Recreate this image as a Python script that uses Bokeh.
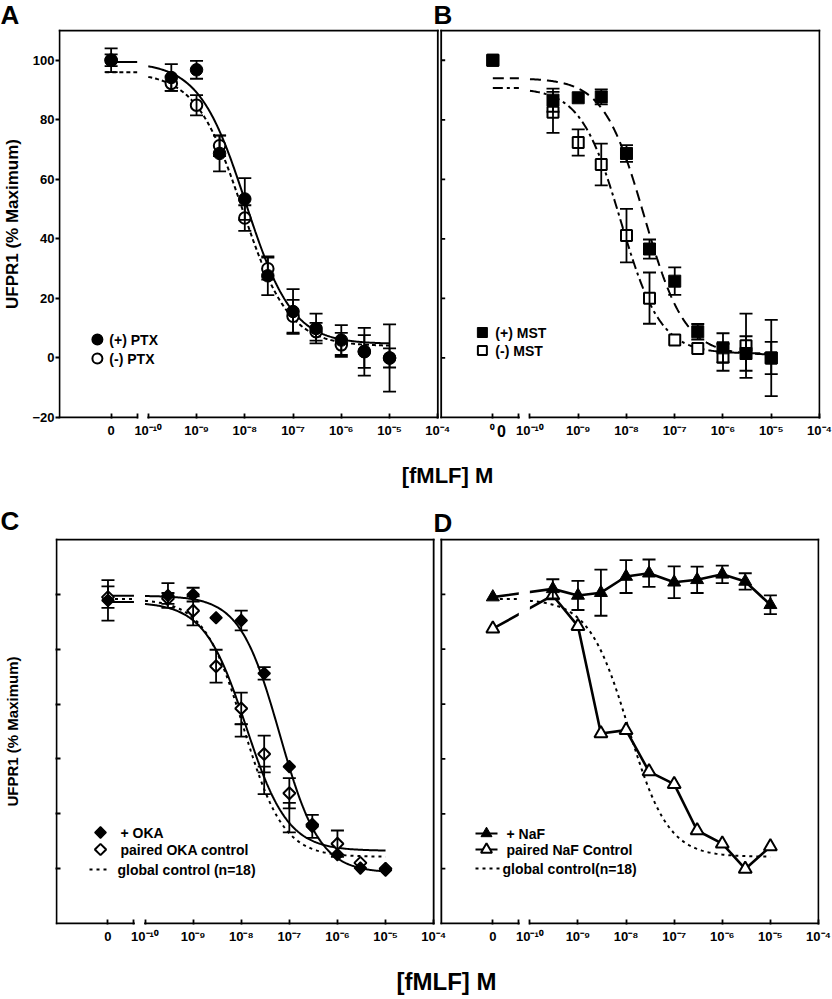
import math
import numpy as np
from bokeh.plotting import figure
from bokeh.layouts import column
from bokeh.models import Range1d, FixedTicker, CustomJSTickFormatter, Label
from bokeh.embed import file_html
from bokeh.resources import INLINE
from bokeh.core.properties import value

FONT = "Liberation Sans"
INK = "black"
W = 832
LEG = 14  # legend text size (px)

# ---------------------------------------------------------------- data
# fMLF concentration (M); 0 = no fMLF
conc_M = [0, 3e-10, 1e-9, 3e-9, 1e-8, 3e-8, 1e-7, 3e-7, 1e-6, 3e-6, 1e-5]
tick_conc = [0, 1e-10, 1e-9, 1e-8, 1e-7, 1e-6, 1e-5, 1e-4]
tick_labels = ["0", "10⁻¹⁰", "10⁻⁹", "10⁻⁸", "10⁻⁷", "10⁻⁶", "10⁻⁵", "10⁻⁴"]
y_ticks_top = [-20, 0, 20, 40, 60, 80, 100]
y_ticks_bottom = [0, 20, 40, 60, 80, 100]

# Panel A  (PTX)
ptx_plus = [100, 94.2, 96.8, 68.7, 53.4, 27.6, 15.6, 9.9, 6.0, 2.1, 0.0]
ptx_plus_sem = [4.0, 4.5, 3.0, 6.0, 7.0, 6.5, 7.5, 5.0, 5.0, 8.0, 11.3]
ptx_minus = [100, 92.2, 84.9, 71.3, 47.0, 30.0, 14.0, 8.8, 4.4, 2.2, 0.0]
ptx_minus_sem = [2.0, 2.5, 3.4, 3.5, 4.3, 3.7, 5.5, 3.0, 4.0, 5.5, 3.2]
fit_ptx_plus = (99.4, 4.7, -7.98, 0.9)      # top, bottom, logEC50, Hill
fit_ptx_minus = (96.0, 4.0, -8.05, 0.9)

# Panel B  (MST)
mst_plus = [100, 86.6, 87.4, 87.7, 68.7, 36.6, 25.8, 8.8, 3.4, 1.5, 0.0]
mst_plus_sem = [0, 3.9, 0, 2.5, 2.8, 3.2, 4.6, 2.6, 4.9, 5.8, 12.8]
mst_minus = [100, 82.5, 72.4, 65.0, 41.1, 20.1, 6.0, 3.2, 0.2, 4.1, 0.0]
mst_minus_sem = [0, 6.9, 4.4, 7.0, 9.0, 8.6, 0, 0, 4.5, 10.8, 5.4]
fit_mst_plus = (94.0, 1.0, -7.63, 1.03)
fit_mst_minus = (90.7, 1.5, -8.12, 1.05)

# Panel C  (OKA)
oka = [97.8, 99.6, 99.9, 91.5, 90.5, 71.2, 37.2, 15.4, 5.1, 0.2, -0.6]
oka_sem = [7.4, 4.5, 2.5, 0, 3.6, 2.3, 0, 4.2, 0, 0, 0]
oka_ctrl = [99.0, 98.5, 94.0, 73.8, 58.4, 41.8, 27.5, 16.0, 9.1, 2.1, 0.0]
oka_ctrl_sem = [3.9, 2.0, 5.3, 6.0, 5.8, 6.7, 5.5, 0, 4.8, 0, 0]
global_ctrl = [np.nan, np.nan, np.nan, np.nan, 50.4, 32.2, 18.6, np.nan, np.nan, np.nan, np.nan]
global_ctrl_sem = [0, 0, 0, 0, 2.3, 5.0, 5.4, 0, 0, 0, 0]
fit_oka = (99.5, -1.5, -7.2, 1.05)
fit_oka_ctrl = (97.2, 6.5, -7.9, 1.0)
fit_global = (98.3, 4.3, -7.95, 1.05)

# Panel D  (NaF)
naf = [99.0, 102.0, 99.6, 100.6, 106.5, 107.7, 104.4, 105.3, 107.3, 104.7, 96.2]
naf_sem = [0, 3.5, 5.3, 8.4, 6.0, 5.0, 5.8, 4.8, 3.2, 3.0, 3.4]
naf_ctrl = [87.5, 99.6, 88.4, 49.3, 50.5, 35.4, 30.8, 13.9, 9.1, -0.1, 8.1]

# ---------------------------------------------------------------- axis geometry (log10 units)
ZERO_POS = -10.77     # where "0" concentration sits on the broken axis
BREAK_LO = -10.23
BREAK_HI = -10.0
LEFT = -11.84
RIGHT = -4.0
OFF_TOP = 7.91        # shift of panel B relative to A
OFF_BOT = 8.0         # shift of panel D relative to C


def xpos(c):
    return ZERO_POS if c == 0 else math.log10(c)


X = np.array([xpos(c) for c in conc_M])


def logistic(params, x):
    top, bottom, logec50, hill = params
    return bottom + (top - bottom) / (1.0 + 10.0 ** ((x - logec50) * hill))


def no_align(p):
    try:
        p.frame_align = False
    except Exception:
        pass


def make_header(page_y0, height, letters, xs, centers, size):
    h = figure(width=W, height=height, x_range=Range1d(0, W),
               y_range=Range1d(page_y0 + height, page_y0),
               x_axis_type=None, y_axis_type=None, output_backend="svg",
               toolbar_location=None, min_border=0, outline_line_color=None,
               background_fill_color="white", border_fill_color="white")
    no_align(h)
    h.text(x=xs, y=centers, text=letters, text_font=value(FONT), text_font_style="bold",
           text_font_size=f"{size}px", text_baseline="middle", text_align="left",
           text_color=INK)
    return h


def make_row(page_y0, height, mb, off, ylo, yhi):
    mb_l, mb_r, mb_t, mb_b = mb
    fw = W - mb_l - mb_r
    fh = height - mb_t - mb_b
    xhi = RIGHT + off
    sx = (fw - 2.0) / (xhi - LEFT)
    sy = (fh - 2.0) / (yhi - ylo)
    x0 = LEFT - 1.0 / sx
    y1 = yhi + 1.0 / sy
    p = figure(width=W, height=height,
               x_range=Range1d(x0, xhi + 1.0 / sx),
               y_range=Range1d(ylo - 1.0 / sy, y1),
               output_backend="svg", toolbar_location=None,
               min_border_left=mb_l, min_border_right=mb_r,
               min_border_top=mb_t, min_border_bottom=mb_b,
               outline_line_color=None, background_fill_color="white",
               border_fill_color="white")
    no_align(p)
    p.grid.visible = False
    fl = mb_l
    ft = page_y0 + mb_t

    def to_data(px, py):
        return x0 + (px - fl) / sx, y1 - (py - ft) / sy
    return p, sx, sy, to_data


def add_label(p, to_data, px, py, text, size, align="left", side=None):
    """Text whose vertical centre sits at page row py."""
    x, y = to_data(px, py)
    lab = Label(x=x, y=y, text=text, text_font=FONT, text_font_style="bold",
                text_font_size=f"{size}px", text_align=align,
                text_baseline="middle", text_color=INK)
    if side is None:
        p.add_layout(lab)
    else:
        p.add_layout(lab, side)


def draw_fit(p, params, off, dash, zero_start, lw=2.0):
    xs = np.linspace(-10.0, -5.0, 240)
    p.line(xs + off, logistic(params, xs), line_color=INK, line_width=lw, line_dash=dash)
    top = params[0]
    p.line([zero_start + off, BREAK_LO + off], [top, top], line_color=INK,
           line_width=lw, line_dash=dash)


def error_bars(p, xs, ys, errs, cap=13, lw=1.8):
    sel = [(x, y, e) for x, y, e in zip(xs, ys, errs) if e > 0 and np.isfinite(y)]
    if not sel:
        return
    x = [s[0] for s in sel]
    lo = [s[1] - s[2] for s in sel]
    hi = [s[1] + s[2] for s in sel]
    p.segment(x0=x, y0=lo, x1=x, y1=hi, line_color=INK, line_width=lw)
    p.scatter(x=x + x, y=hi + lo, marker="dash", size=cap, line_color=INK, line_width=lw)


def draw_frame(p, off, ylo, yhi, sx, inner_ticks=None):
    l, r = LEFT + off, RIGHT + off
    xs = [[l, l], [l, r], [r, r], [l, BREAK_LO + off], [BREAK_HI + off, r]]
    ys = [[ylo, yhi], [yhi, yhi], [ylo, yhi], [ylo, ylo], [ylo, ylo]]
    p.multi_line(xs, ys, line_color=INK, line_width=1.8, line_cap="square")
    if inner_ticks:
        n = len(inner_ticks)
        p.segment(x0=[l] * n, y0=inner_ticks, x1=[l + 4.0 / sx] * n, y1=inner_ticks,
                  line_color=INK, line_width=1.8)


def setup_xaxis(p, offs, zero_labels):
    vals, labs = [], []
    for off, zl in zip(offs, zero_labels):
        for c, lab in zip(tick_conc, tick_labels):
            vals.append(xpos(c) + off)
            labs.append(zl if c == 0 else lab)
        vals.append(BREAK_LO + off)
        labs.append("")
    ax = p.xaxis[0]
    ax.ticker = FixedTicker(ticks=vals)
    ax.formatter = CustomJSTickFormatter(
        args=dict(vals=vals, labs=labs),
        code="for (let i = 0; i < vals.length; i++) { if (Math.abs(vals[i] - tick) < 1e-6) { return labs[i]; } } return '';")
    ax.axis_line_color = None
    ax.major_tick_in = 5
    ax.major_tick_out = 0
    ax.major_tick_line_width = 1.8
    ax.minor_tick_line_color = None
    ax.major_label_standoff = 4
    ax.major_label_text_font = FONT
    ax.major_label_text_font_style = "bold"
    ax.major_label_text_font_size = "13px"
    ax.major_label_text_color = INK


def legend_marker(p, to_data, px, py, marker, size, fill, lw, angle=0.0):
    x, y = to_data(px, py)
    p.scatter([x], [y], marker=marker, size=size, fill_color=fill, line_color=INK,
              line_width=lw, angle=angle)


def legend_line(p, to_data, px0, px1, py, dash, lw=2.2):
    x0, y = to_data(px0, py)
    x1, _ = to_data(px1, py)
    p.line([x0, x1], [y, y], line_color=INK, line_width=lw, line_dash=dash)


# ================================================================ header A / B
hdr_top = make_header(0, 29, ["A", "B"], [0, 433], [14.5, 14.5], 26)

# ================================================================ top row (A, B)
pt, sxt, syt, dt = make_row(29, 471, (56, 12, 0, 82), OFF_TOP, -20, 110)

# A
draw_fit(pt, fit_ptx_plus, 0, "solid", ZERO_POS - 0.12)
draw_fit(pt, fit_ptx_minus, 0, "4 3", ZERO_POS - 0.12)
pt.scatter(X, ptx_minus, marker="circle", size=11.5, fill_color="white", line_color=INK, line_width=2)
pt.scatter(X, ptx_plus, marker="circle", size=12.5, fill_color=INK, line_color=INK, line_width=1)
error_bars(pt, X, ptx_minus, ptx_minus_sem)
error_bars(pt, X, ptx_plus, ptx_plus_sem)

# B
XB = X + OFF_TOP
draw_fit(pt, fit_mst_plus, OFF_TOP, "11 6", ZERO_POS)
draw_fit(pt, fit_mst_minus, OFF_TOP, "10 4 3 4", ZERO_POS)
pt.scatter(XB, mst_minus, marker="square", size=11, fill_color="white", line_color=INK, line_width=2)
pt.scatter(XB, mst_plus, marker="square", size=12, fill_color=INK, line_color=INK, line_width=1)
error_bars(pt, XB, mst_minus, mst_minus_sem)
error_bars(pt, XB, mst_plus, mst_plus_sem)

draw_frame(pt, 0, -20, 110, sxt)
draw_frame(pt, OFF_TOP, -20, 110, sxt, inner_ticks=y_ticks_bottom)

setup_xaxis(pt, [0, OFF_TOP], ["0", "⁰"])
ay = pt.yaxis[0]
ay.ticker = FixedTicker(ticks=y_ticks_top)
ay.axis_line_color = None
ay.major_tick_in = 1
ay.major_tick_out = 3
ay.major_tick_line_width = 1.8
ay.minor_tick_line_color = None
ay.major_label_standoff = 1
ay.major_label_text_font = FONT
ay.major_label_text_font_style = "bold"
ay.major_label_text_font_size = "13px"
ay.major_label_text_color = INK
ay.axis_label = "UFPR1 (% Maximum)"
ay.axis_label_standoff = 7
ay.axis_label_text_font = FONT
ay.axis_label_text_font_style = "bold"
ay.axis_label_text_font_size = "17px"
ay.axis_label_text_color = INK

# legends
legend_marker(pt, dt, 95, 339, "circle", 10.5, INK, 1.5)
legend_marker(pt, dt, 95, 358, "circle", 10, "white", 2)
add_label(pt, dt, 107, 339, "(+) PTX", LEG)
add_label(pt, dt, 107, 358, "(-) PTX", LEG)
legend_marker(pt, dt, 481, 332, "square", 10, INK, 1)
legend_marker(pt, dt, 481, 350, "square", 9, "white", 2)
add_label(pt, dt, 494, 332, "(+) MST", LEG)
add_label(pt, dt, 494, 350, "(-) MST", LEG)

# texts below the axis
add_label(pt, dt, 500, 430, "0", 16, align="center", side="below")
add_label(pt, dt, 446, 475, "[fMLF] M", 22, align="center", side="below")

# ================================================================ header C / D
hdr_bot = make_header(500, 38, ["C", "D"], [0, 433], [520, 522.5], 26)

# ================================================================ bottom row (C, D)
pb, sxb, syb, db = make_row(538, 461, (55, 13, 0, 75), OFF_BOT, -20, 120)

# C
draw_fit(pb, fit_global, 0, "3 4", ZERO_POS)
draw_fit(pb, fit_oka_ctrl, 0, "solid", ZERO_POS)
draw_fit(pb, fit_oka, 0, "solid", ZERO_POS)
pb.scatter(X, oka_ctrl, marker="square", size=8.5, angle=math.pi / 4, fill_color="white", line_color=INK, line_width=2)
pb.scatter(X, oka, marker="square", size=8.5, angle=math.pi / 4, fill_color=INK, line_color=INK, line_width=1.5)
error_bars(pb, X, global_ctrl, global_ctrl_sem)
error_bars(pb, X, oka_ctrl, oka_ctrl_sem)
error_bars(pb, X, oka, oka_sem)

# D
XD = X + OFF_BOT
draw_fit(pb, fit_global, OFF_BOT, "3 4", ZERO_POS)
pb.line(XD, naf_ctrl, line_color=INK, line_width=2.6)
pb.line(XD, naf, line_color=INK, line_width=2.6)
pb.quad(left=BREAK_LO + OFF_BOT, right=BREAK_HI + OFF_BOT, bottom=-20, top=120,
        fill_color="white", line_color=None)
pb.scatter(XD, naf_ctrl, marker="triangle", size=13, fill_color="white", line_color=INK, line_width=2)
pb.scatter(XD, naf, marker="triangle", size=13, fill_color=INK, line_color=INK, line_width=1)
error_bars(pb, XD, naf, naf_sem)

draw_frame(pb, 0, -20, 120, sxb)
draw_frame(pb, OFF_BOT, -20, 120, sxb, inner_ticks=y_ticks_bottom)

setup_xaxis(pb, [0, OFF_BOT], ["0", "0"])
ayb = pb.yaxis[0]
ayb.ticker = FixedTicker(ticks=y_ticks_bottom)
ayb.formatter = CustomJSTickFormatter(code="return '';")
ayb.axis_line_color = None
ayb.major_tick_in = 5
ayb.major_tick_out = 0
ayb.major_tick_line_width = 1.8
ayb.minor_tick_line_color = None
ayb.major_label_standoff = 0
ayb.axis_label = "UFPR1 (% Maximum)"
ayb.axis_label_standoff = 35
ayb.axis_label_text_font = FONT
ayb.axis_label_text_font_style = "bold"
ayb.axis_label_text_font_size = "15px"
ayb.axis_label_text_color = INK

# legends
legend_marker(pb, db, 100, 832, "square", 8, INK, 1.5, angle=math.pi / 4)
legend_marker(pb, db, 100, 849, "square", 8, "white", 2, angle=math.pi / 4)
legend_line(pb, db, 89, 110, 869, "3 4")
add_label(pb, db, 120, 832, "+ OKA", LEG)
add_label(pb, db, 120, 849, "paired OKA control", LEG)
add_label(pb, db, 117, 869, "global control (n=18)", LEG)

legend_line(pb, db, 475, 497, 833, "solid")
legend_marker(pb, db, 486, 833, "triangle", 11, INK, 1)
legend_line(pb, db, 475, 497, 849, "solid")
legend_marker(pb, db, 486, 849, "triangle", 11, "white", 2)
legend_line(pb, db, 475, 499, 868, "3 4")
add_label(pb, db, 506, 833, "+ NaF", LEG)
add_label(pb, db, 506, 849, "paired NaF Control", LEG)
add_label(pb, db, 502, 868, "global control(n=18)", LEG)

add_label(pb, db, 446, 981, "[fMLF] M", 24, align="center", side="below")

layout = column(hdr_top, pt, hdr_bot, pb, spacing=0)
open("out.html", "w").write(file_html(layout, INLINE, title="UFPR1 fMLF dose response"))
